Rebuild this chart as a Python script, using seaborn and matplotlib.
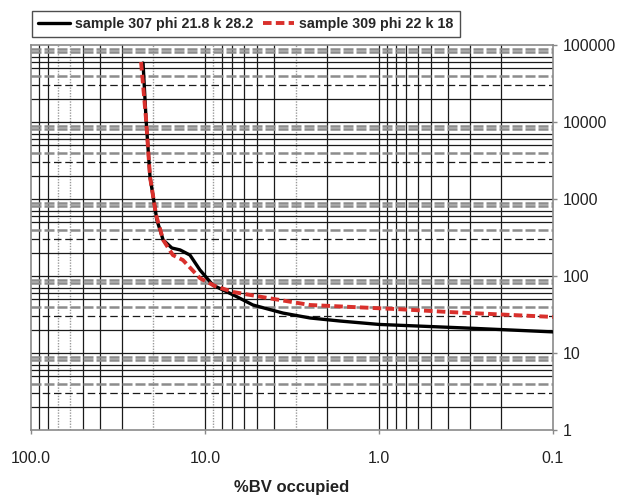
import numpy as np
import pandas as pd
import matplotlib
matplotlib.use("Agg")
import matplotlib.pyplot as plt
import seaborn as sns

# ---- data ----
bv_307 = [22.7, 21.8, 20.7, 18.9, 17.4, 15.5, 13.9, 12.2, 10.7, 9.0, 6.9, 5.3, 3.56, 2.49, 1.67, 1.0, 0.30, 0.1]
pc_307 = [58300, 10600, 1930, 533, 294, 231, 218, 187, 120, 76, 57, 42, 33, 28.5, 26, 23.5, 21, 18.8]
bv_309 = [23.3, 21.8, 20.7, 19.1, 17.4, 15.3, 13.4, 10.7, 8.76, 6.9, 4.4, 2.49, 0.757, 0.39, 0.1]
pc_309 = [60200, 10600, 1930, 620, 294, 187, 161, 94, 74, 62, 52, 42, 37, 34, 29.4]
label_307 = "sample 307 phi 21.8 k 28.2"
label_309 = "sample 309 phi 22 k 18"
x_ticks = [100.0, 10.0, 1.0, 0.1]
x_tick_labels = ["100.0", "10.0", "1.0", "0.1"]
y_ticks = [1, 10, 100, 1000, 10000, 100000]
y_tick_labels = ["1", "10", "100", "1000", "10000", "100000"]
x_label = "%BV occupied"

df = pd.concat([
    pd.DataFrame({"bv": bv_307, "pc": pc_307, "sample": label_307}),
    pd.DataFrame({"bv": bv_309, "pc": pc_309, "sample": label_309}),
], ignore_index=True)

sns.set_theme(style="white")
plt.rcParams["font.family"] = ["Liberation Sans", "DejaVu Sans"]

fig = plt.figure(figsize=(6.19, 4.99), dpi=100)
ax = fig.add_axes([31 / 619, 1 - 430 / 499, (553 - 31) / 619, (430 - 45) / 499])

ax.set_xscale("log")
ax.set_yscale("log")
ax.set_xlim(100, 0.1)
ax.set_ylim(1, 100000)

# ---- grid (Excel-like mixed styles) ----
vstyles = {
    1: {1: "s", 2: "d", 3: "s", 4: "s", 5: "s", 6: "d", 7: "d", 8: "s", 9: "s"},
    0: {1: "s", 2: "s", 3: "d", 4: "s", 5: "s", 6: "s", 7: "s", 8: "s", 9: "d"},
    -1: {m: "s" for m in range(1, 10)},
}
for e, st in vstyles.items():
    for m, s in st.items():
        v = m * 10.0 ** e
        if v >= 100 or v <= 0.1:
            continue
        if s == "s":
            ax.axvline(v, color="#1a1a1a", lw=0.9, zorder=1)
        else:
            ax.axvline(v, color="#9a9a9a", lw=1.0, ls=(0, (1, 1)), zorder=1)

hstyle = {1: "s", 2: "s", 3: "kd", 4: "gd", 5: "s", 6: "s", 7: "s", 8: "gd", 9: "gd"}
for e in range(0, 5):
    for m, s in hstyle.items():
        v = m * 10.0 ** e
        if v <= 1 or v >= 100000:
            continue
        if s == "s":
            ax.axhline(v, color="#1a1a1a", lw=0.9, zorder=1)
        elif s == "gd":
            ax.axhline(v, color="#8c8c8c", lw=1.8, ls=(0, (4, 1.2)), zorder=1)
        else:
            ax.axhline(v, color="#1a1a1a", lw=0.9, ls=(0, (6, 3)), zorder=1)

# ---- curves ----
sns.lineplot(data=df[df["sample"] == label_307], x="bv", y="pc", ax=ax,
             sort=False, estimator=None, color="black", lw=2.4,
             label=label_307, zorder=3)
sns.lineplot(data=df[df["sample"] == label_309], x="bv", y="pc", ax=ax,
             sort=False, estimator=None, color="#d9302c", lw=2.8,
             dashes=False, label=label_309, zorder=4)
ax.lines[-1].set_linestyle((0, (2.2, 1.1)))

# ---- axes cosmetics ----
ax.set_xticks(x_ticks)
ax.set_xticklabels(x_tick_labels)
ax.set_yticks(y_ticks)
ax.set_yticklabels(y_tick_labels)
ax.xaxis.set_minor_locator(matplotlib.ticker.NullLocator())
ax.yaxis.set_minor_locator(matplotlib.ticker.NullLocator())
ax.yaxis.tick_right()
ax.tick_params(axis="x", which="major", bottom=True, length=3, width=1,
               color="#888888", pad=12, labelsize=11.5, labelcolor="#222222")
ax.tick_params(axis="y", which="major", right=True, left=False, length=3, width=1,
               color="#888888", pad=4, labelsize=11.5, labelcolor="#222222")
for sp in ax.spines.values():
    sp.set_color("#8a8a8a")
    sp.set_linewidth(1.2)
ax.set_ylabel("")
ax.set_xlabel(x_label, fontsize=12, fontweight="bold", labelpad=10, color="#222222")

leg = ax.legend(loc="center", bbox_to_anchor=(246 / 619, 1 - 24 / 499),
                bbox_transform=fig.transFigure, ncol=2, frameon=True,
                fancybox=False, handlelength=2.2, columnspacing=0.7,
                handletextpad=0.35, borderpad=0.45, borderaxespad=0,
                prop={"size": 10.3, "weight": "bold"})
leg.get_frame().set_edgecolor("#222222")
leg.get_frame().set_linewidth(1.0)

fig.savefig("out.png", dpi=100)
